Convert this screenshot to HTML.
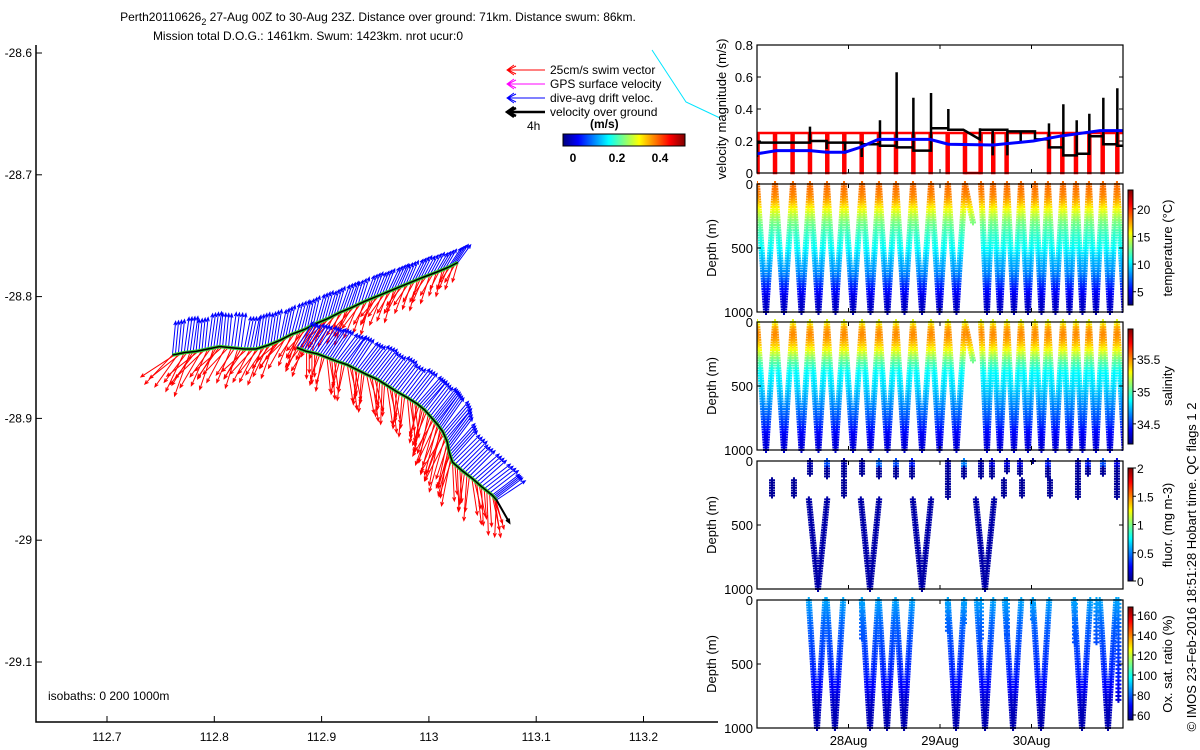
<!DOCTYPE html>
<html><head><meta charset="utf-8"><style>
html,body{margin:0;padding:0;background:#fff;}
svg{display:block;font-family:"Liberation Sans",sans-serif;}
</style></head><body>
<svg id="fig" width="1200" height="750" viewBox="0 0 1200 750" xmlns="http://www.w3.org/2000/svg">
<defs>
<clipPath id="mapclip"><rect x="36" y="45" width="682" height="677"/></clipPath>
<clipPath id="pclip"><rect x="757" y="40" width="366" height="700"/></clipPath>
</defs>
<g font-size="12" text-anchor="middle" fill="#000">
<text x="378" y="21">Perth20110626<tspan font-size="9" dy="4">2</tspan><tspan dy="-4"> 27-Aug 00Z to 30-Aug 23Z. Distance over ground: 71km. Distance swum: 86km.</tspan></text>
<text x="308" y="40">Mission total D.O.G.: 1461km. Swum: 1423km. nrot ucur:0</text>
</g>
<g id="map"></g>
<g id="legend"></g>
<g id="panels"></g>
<text transform="translate(1196,567) rotate(-90)" text-anchor="middle" font-size="13">© IMOS 23-Feb-2016 18:51:28 Hobart time. QC flags 1  2</text>
</svg>
<script>
// ---------- DATA ----------
const t1Lon=[112.761,112.772,112.783,112.794,112.805,112.816,112.828,112.839,112.850,112.861,112.872,112.884,112.895,112.906,112.917,112.928,112.940,112.951,112.962,112.973,112.984,112.995,113.007,113.018,113.027];
const t1Lat=[-28.848,-28.846,-28.845,-28.843,-28.841,-28.842,-28.843,-28.843,-28.840,-28.836,-28.831,-28.827,-28.822,-28.818,-28.813,-28.809,-28.804,-28.800,-28.796,-28.792,-28.788,-28.784,-28.780,-28.776,-28.772];
const t1DriftU=[0.02,0.03,0.02,0.03,0.02,0.03,0.04,0.03,0.03,0.04,0.05,0.04,0.05,0.05,0.06,0.05,0.06,0.06,0.07,0.06,0.07,0.07,0.07,0.08,0.08];
const t1DriftV=[0.21,0.22,0.20,0.22,0.21,0.22,0.20,0.21,0.20,0.19,0.19,0.18,0.18,0.17,0.17,0.16,0.16,0.15,0.15,0.14,0.14,0.13,0.12,0.12,0.11];
const t1SwimU=[-0.15,-0.10,-0.14,-0.09,-0.12,-0.08,-0.11,-0.09,-0.08,-0.11,-0.07,-0.09,-0.08,-0.10,-0.07,-0.09,-0.06,-0.08,-0.06,-0.07,-0.05,-0.06,-0.04,-0.05,-0.03];
const t1SwimV=[-0.15,-0.20,-0.17,-0.19,-0.16,-0.18,-0.15,-0.17,-0.16,-0.14,-0.16,-0.15,-0.17,-0.14,-0.16,-0.15,-0.16,-0.14,-0.15,-0.13,-0.14,-0.13,-0.12,-0.11,-0.10];
const t2Lon=[112.877,112.886,112.896,112.905,112.914,112.924,112.933,112.942,112.952,112.961,112.970,112.980,112.989,112.996,113.003,113.008,113.013,113.017,113.019,113.022,113.031,113.040,113.049,113.059,113.063];
const t2Lat=[-28.842,-28.845,-28.847,-28.850,-28.853,-28.856,-28.860,-28.864,-28.868,-28.873,-28.878,-28.883,-28.888,-28.893,-28.900,-28.905,-28.911,-28.919,-28.928,-28.936,-28.943,-28.949,-28.956,-28.963,-28.967];
const t2DriftU=[0.10,0.11,0.12,0.12,0.13,0.12,0.13,0.14,0.13,0.14,0.13,0.14,0.15,0.14,0.15,0.14,0.16,0.15,0.16,0.17,0.16,0.17,0.18,0.17,0.18];
const t2DriftV=[0.16,0.17,0.17,0.18,0.17,0.18,0.17,0.18,0.17,0.18,0.17,0.18,0.17,0.18,0.19,0.20,0.19,0.20,0.18,0.17,0.16,0.15,0.14,0.13,0.12];
const t2SwimU=[-0.06,0.00,-0.04,0.02,-0.03,0.03,-0.02,0.04,-0.01,0.03,-0.02,0.02,-0.04,-0.06,-0.09,-0.07,-0.10,-0.05,-0.06,0.01,-0.02,0.03,0.01,0.04,-0.01];
const t2SwimV=[-0.12,-0.14,-0.16,-0.18,-0.17,-0.19,-0.18,-0.20,-0.19,-0.20,-0.19,-0.21,-0.20,-0.22,-0.24,-0.26,-0.25,-0.23,-0.22,-0.20,-0.21,-0.19,-0.20,-0.18,-0.19];
const redDrops=[0.006,0.197,0.389,0.579,0.768,0.954,1.144,1.333,1.519,1.709,1.898,2.084,2.273,2.444,2.582,2.728,3.191,3.337,3.486,3.632,3.778,3.938];
const redLevel=0.25, redZeroStart=2.28, redZeroEnd=2.44;
const blackStart=[0,0.579,0.761,0.962,1.144,1.344,1.526,1.709,1.902,2.091,2.255,2.437,2.576,2.736,2.882,3.038,3.191,3.348,3.494,3.632,3.785,3.938];
const blackLevel=[0.19,0.20,0.19,0.19,0.18,0.17,0.16,0.14,0.28,0.27,0.27,0.27,0.27,0.26,0.26,0.21,0.16,0.11,0.12,0.23,0.18,0.17];
const blackEnd=[0.19,0.20,0.19,0.19,0.18,0.17,0.16,0.14,0.28,0.27,0.21,0.27,0.27,0.26,0.26,0.21,0.16,0.11,0.12,0.23,0.18,0.17];
const blackSpike=[0.10,0.29,0.15,0.12,0.10,0.33,0.63,0.47,0.50,0.40,0.27,0.28,0.11,0.11,0.19,0.21,0.31,0.43,0.33,0.37,0.47,0.53];
const blueT=[0,0.212,0.579,0.761,0.962,1.126,1.326,1.709,1.891,2.091,2.582,3.020,3.311,3.749,4.0];
const blueV=[0.12,0.14,0.14,0.13,0.13,0.16,0.21,0.21,0.21,0.18,0.175,0.20,0.23,0.265,0.265];
const diveStart=[0.0,0.197,0.393,0.579,0.765,0.951,1.148,1.333,1.519,1.705,1.902,2.087,2.273,2.448,2.579,2.732,2.885,3.038,3.180,3.344,3.486,3.628,3.781,3.934];
const diveEnd=[0.197,0.393,0.579,0.765,0.951,1.148,1.333,1.519,1.705,1.902,2.087,2.273,2.448,2.579,2.732,2.885,3.038,3.180,3.344,3.486,3.628,3.781,3.934,4.10];
const diveMax=[1000,1000,1000,1000,1000,1000,1000,1000,1000,1000,1000,1000,300,1000,1000,1000,1000,1000,1000,1000,1000,1000,1000,1000];
const profDepth=[0,50,100,150,200,250,300,400,500,600,700,800,900,1000];
const tempProf=[18.6,18.4,18.0,17.0,15.5,14.2,13.0,11.5,10.5,9.0,8.0,6.0,4.5,3.8];
const salProf=[35.25,35.45,35.5,35.45,35.35,35.2,35.05,34.85,34.8,34.7,34.6,34.5,34.38,34.33];
const oxProf=[88,86,84,82,80,79,78,76,74,72,68,63,61,60];
const fluorV=[0.667,1.235,1.803,2.492];
const fluorCols=[[0.164,150,280,0.05],[0.404,150,280,0.05],[0.579,0,100,0.1],[0.765,0,120,0.4],[0.951,0,120,0.1],[0.951,150,280,0.05],[1.148,0,100,0.1],[1.333,0,120,0.45],[1.519,0,120,0.4],[1.694,0,120,0.3],[2.087,0,280,0.1],[2.262,0,120,0.5],[2.448,0,130,0.1],[2.568,0,120,0.2],[2.732,0,80,0.2],[2.699,150,280,0.05],[2.874,0,100,0.2],[2.896,150,280,0.05],[3.016,0,10,0.05],[3.180,0,120,0.3],[3.202,150,280,0.05],[3.508,0,280,0.1],[3.617,0,100,0.3],[3.781,0,100,0.4],[3.934,0,280,0.2]];
const oxV=[0.656,0.852,1.235,1.421,1.607,2.175,2.492,2.798,3.104,3.552,3.836];
const oxCols=[[1.148,0,300],[2.087,0,250],[2.262,0,200],[2.448,0,300],[2.732,0,300],[3.016,0,150],[3.475,0,350],[3.71,0,350],[3.95,0,800]];
const mapXTicks=[112.7,112.8,112.9,113,113.1,113.2];
const mapYTicks=[-28.6,-28.7,-28.8,-28.9,-29,-29.1];
const dateTicks=[1,2,3], dateLabels=["28Aug","29Aug","30Aug"];

// ---------- HELPERS ----------
const NS="http://www.w3.org/2000/svg";
function mk(tag,attrs,parent){const e=document.createElementNS(NS,tag);for(const k in attrs)e.setAttribute(k,attrs[k]);parent.appendChild(e);return e;}
function jet(t){t=Math.max(0,Math.min(1,t));const c=v=>Math.round(255*Math.max(0,Math.min(1,v)));return `rgb(${c(1.5-Math.abs(4*t-3))},${c(1.5-Math.abs(4*t-2))},${c(1.5-Math.abs(4*t-1))})`;}
function interp(xs,ys,x){if(x<=xs[0])return ys[0];for(let i=1;i<xs.length;i++){if(x<=xs[i]){const f=(x-xs[i-1])/(xs[i]-xs[i-1]);return ys[i-1]+f*(ys[i]-ys[i-1]);}}return ys[ys.length-1];}

// ---------- MAP ----------
const map=document.getElementById('map');
const MX0=36,MX1=718,MY0=45,MY1=722;
const mx=lon=>107+(lon-112.7)*1073;
const my=lat=>53+(-28.6-lat)*1218;
const VS=160;
const mapG=mk('g',{'clip-path':'url(#mapclip)'},map);
function arrow(parent,x,y,u,v,color,name,w){
  const x2=x+u*VS,y2=y-v*VS;const ang=Math.atan2(y2-y,x2-x);const h=4;
  const p=`M${x},${y}L${x2},${y2}M${x2-h*Math.cos(ang-0.4)},${y2-h*Math.sin(ang-0.4)}L${x2},${y2}L${x2-h*Math.cos(ang+0.4)},${y2-h*Math.sin(ang+0.4)}`;
  const e=mk('path',{d:p,stroke:color,'stroke-width':w||1,fill:'none'},parent);
  
  
}
const subs=[0,0.25,0.5,0.75];
function drawTrack(lon,lat,du,dv,su,sv,id){
  for(let i=0;i<lon.length;i++){
    subs.forEach((f,k)=>{if(i==lon.length-1&&f>0)return;const j=Math.min(i+1,lon.length-1);
      const x=mx(lon[i])+(mx(lon[j])-mx(lon[i]))*f,y=my(lat[i])+(my(lat[j])-my(lat[i]))*f;
      const jit=[1,1.25,0.85,1.15][k];
      arrow(mapG,x,y,su[i]*jit*1.15,sv[i]*(2.1-jit)*1.1,'#ff0000','swim-vector',1);});}
  for(let i=0;i<lon.length;i++){
    subs.forEach(f=>{if(i==lon.length-1&&f>0)return;const j=Math.min(i+1,lon.length-1);
      const x=mx(lon[i])+(mx(lon[j])-mx(lon[i]))*f,y=my(lat[i])+(my(lat[j])-my(lat[i]))*f;
      arrow(mapG,x,y,du[i],dv[i],'#0000ff','drift-vector',1);});}
  let d='';for(let i=0;i<lon.length;i++)d+=(i?'L':'M')+mx(lon[i])+','+my(lat[i]);
  const g=mk('path',{d:d,stroke:'#33cc33','stroke-width':3.5,fill:'none'},mapG);
  
  
  const l=mk('path',{d:d,stroke:'#000','stroke-width':1.5,fill:'none'},mapG);
  
  
}
drawTrack(t1Lon,t1Lat,t1DriftU,t1DriftV,t1SwimU,t1SwimV,'track-1');
drawTrack(t2Lon,t2Lat,t2DriftU,t2DriftV,t2SwimU,t2SwimV,'track-2');
arrow(mapG,mx(t2Lon[t2Lon.length-1]),my(t2Lat[t2Lat.length-1]),0.08,-0.14,'#000','final-velocity-arrow',2);
const ax=mk('path',{d:`M${MX0},${MY0}V${MY1}H${MX1}`,stroke:'#000','stroke-width':1.5,fill:'none'},map);


mapXTicks.forEach(v=>{const x=mx(v);mk('line',{x1:x,x2:x,y1:MY1,y2:MY1-6,stroke:'#000'},map);
  const t=mk('text',{x:x,y:MY1+19,'text-anchor':'middle','font-size':12},map);t.textContent=String(v);
  
  });
mapYTicks.forEach(v=>{const y=my(v);mk('line',{x1:MX0,x2:MX0+6,y1:y,y2:y,stroke:'#000'},map);
  const t=mk('text',{x:MX0-4,y:y+4,'text-anchor':'end','font-size':12},map);t.textContent=String(v);
  
  });
const iso=mk('text',{x:48,y:700,'font-size':12},map);iso.textContent='isobaths: 0   200  1000m';


iso.setAttribute('xml:space','preserve');
const cy=mk('path',{d:'M652,50L686,102L720,118',stroke:'#00e5ff','stroke-width':1,fill:'none'},map);



// ---------- LEGEND ----------
const lg=document.getElementById('legend');
const legItems=[['#ff0000','25cm/s swim vector',1],['#ff00ff','GPS surface velocity',1],['#0000ff','dive-avg drift veloc.',1],['#000','velocity over ground',2.5]];
legItems.forEach((it,i)=>{const y=70+i*14;
  const a=mk('path',{d:`M545,${y}H507M514,${y-5}L507,${y}L514,${y+5}M516,${y-4}L508,${y}L516,${y+4}`,stroke:it[0],'stroke-width':it[2],fill:'none'},lg);
  
  
  const t=mk('text',{x:550,y:y+4,'font-size':12},lg);t.textContent=it[1];
  
  });
const h4=mk('text',{x:527,y:130,'font-size':12},lg);h4.textContent='4h';


const ms=mk('text',{x:590,y:128,'font-size':12,'font-weight':'bold'},lg);ms.textContent='(m/s)';


function gradient(id,vert){const defs=document.querySelector('defs');const g=mk('linearGradient',vert?{id:id,x1:0,y1:1,x2:0,y2:0}:{id:id,x1:0,y1:0,x2:1,y2:0},defs);for(let i=0;i<=16;i++)mk('stop',{offset:i/16,'stop-color':jet(i/16)},g);}
gradient('gh',false);gradient('gv',true);
const lcb=mk('rect',{x:563,y:134,width:122,height:12,fill:'url(#gh)',stroke:'#000','stroke-width':1},lg);


[[0,573],[0.2,617],[0.4,660]].forEach(v=>{const t=mk('text',{x:v[1],y:162,'font-size':12,'font-weight':'bold','text-anchor':'middle'},lg);t.textContent=String(v[0]);
  
  });

// ---------- PANELS ----------
const P=document.getElementById('panels');
const PX0=757,PX1=1123;
const px=t=>PX0+t*(PX1-PX0)/4;
const panelTops=[45,184,322,461,600],PH=128;
function panelFrame(i,name,yticks,ymin,ymax,ylabel){
  const top=panelTops[i],bot=top+PH;
  const g=mk('g',{},P);
  const yv=v=>top+(v-ymin)/(ymax-ymin)*PH;
  return {g,top,bot,yv,draw(){
    const r=mk('rect',{x:PX0,y:top,width:PX1-PX0,height:PH,fill:'none',stroke:'#000','stroke-width':1.2},g);
    
    yticks.forEach(v=>{const y=yv(v);mk('line',{x1:PX0,x2:PX0+4,y1:y,y2:y,stroke:'#000'},g);mk('line',{x1:PX1,x2:PX1-4,y1:y,y2:y,stroke:'#000'},g);
      const t=mk('text',{x:PX0-4,y:y+5,'text-anchor':'end','font-size':13},g);t.textContent=String(v);
      });
    dateTicks.forEach(d=>{const x=px(d);mk('line',{x1:x,x2:x,y1:bot,y2:bot-4,stroke:'#000'},g);mk('line',{x1:x,x2:x,y1:top,y2:top+4,stroke:'#000'},g);});
    const yl=mk('text',{transform:`translate(${i==0?726:716},${top+PH/2}) rotate(-90)`,'text-anchor':'middle','font-size':13},g);yl.textContent=ylabel;
    
  }};
}
const p1=panelFrame(0,'velocity-panel',[0,0.2,0.4,0.6,0.8],0.8,0,'velocity magnitude (m/s)');
{const g=mk('g',{'clip-path':'url(#pclip)'},p1.g);
 let d=`M${px(0)},${p1.yv(redLevel)}`;
 redDrops.forEach(t=>{const x=px(t);d+=`H${x-1}V${p1.yv(0)}H${x+1}V${p1.yv(redLevel)}`;});
 d+=`H${px(4)}`;
 const rl=mk('path',{d:d,stroke:'#ff0000','stroke-width':2.5,fill:'none'},g);
 const rz=mk('path',{d:`M${px(redZeroStart)},${p1.yv(redLevel)}V${p1.yv(0)}H${px(redZeroEnd)}V${p1.yv(redLevel)}`,stroke:'#ff0000','stroke-width':2.5,fill:'none'},g);
 
 let bd='';
 for(let i=0;i<blackStart.length;i++){const x=px(blackStart[i]),xe=px(i+1<blackStart.length?blackStart[i+1]:4);
   bd+=(i?'L':'M')+x+','+p1.yv(blackLevel[i])+`V${p1.yv(blackSpike[i])}V${p1.yv(blackLevel[i])}L${xe},${p1.yv(blackEnd[i])}`;}
 const bl=mk('path',{d:bd,stroke:'#000','stroke-width':2.5,fill:'none'},g);
 let ud='';blueT.forEach((t,i)=>{ud+=(i?'L':'M')+px(t)+','+p1.yv(blueV[i]);});
 const ul=mk('path',{d:ud,stroke:'#0000ff','stroke-width':3,fill:'none'},g);
 p1.draw();}
function marker(g,x,y,c,name){const e=mk('path',{d:`M${x-3},${y}h6M${x},${y-3}v6`,stroke:c,'stroke-width':2},g);
  }
function colorbar(i,name,vmin,vmax,ticks,label,cbTop,cbBot){
  const top=panelTops[i];const g=mk('g',{},P);
  const r=mk('rect',{x:1128,y:cbTop,width:5,height:cbBot-cbTop,fill:'url(#gv)',stroke:'#000','stroke-width':1},g);
  
  ticks.forEach(v=>{const y=cbBot-(v-vmin)/(vmax-vmin)*(cbBot-cbTop);mk('line',{x1:1133,x2:1136,y1:y,y2:y,stroke:'#000'},g);
    const t=mk('text',{x:1137,y:y+5,'font-size':12},g);t.textContent=String(v);
    });
  const t=mk('text',{transform:`translate(1172,${top+PH/2}) rotate(-90)`,'text-anchor':'middle','font-size':13},g);t.textContent=label;
  
}
function divePanel(i,name,prof,vmin,vmax){
  const p=panelFrame(i,name,[0,500,1000],0,1000,'Depth (m)');
  const g=mk('g',{'clip-path':'url(#pclip)'},p.g);
  for(let k=0;k<diveStart.length;k++){const a=px(diveStart[k]),b=px(diveEnd[k]),m=(a+b)/2,mxD=diveMax[k];
    for(let d=0;d<=mxD;d+=20){const c=jet((interp(profDepth,prof,d)-vmin)/(vmax-vmin));const f=d/mxD;
      marker(g,a+(m-a)*f,p.yv(d),c,'dive-sample');
      if(mxD>=1000)marker(g,b-(b-m)*f,p.yv(d),c,'dive-sample');}}
  p.draw();return p;}
divePanel(1,'temperature-panel',tempProf,2.6,23.4);
colorbar(1,'temperature-colorbar',2.6,23.4,[5,10,15,20],'temperature (°C)',190,305);
divePanel(2,'salinity-panel',salProf,34.19,35.96);
colorbar(2,'salinity-colorbar',34.19,35.96,[34.5,35,35.5],'salinity',329,444);
{const p=panelFrame(3,'fluorescence-panel',[0,500,1000],0,1000,'Depth (m)');const g=mk('g',{'clip-path':'url(#pclip)'},p.g);
 fluorV.forEach(t=>{const b=px(t);for(let d=300;d<=1000;d+=20){const f=(1000-d)/700;const c=jet(0.04);
   marker(g,b-f*0.1*91.5,p.yv(d),c,'fluor-sample');marker(g,b+f*0.1*91.5,p.yv(d),c,'fluor-sample');}});
 fluorCols.forEach(c=>{const x=px(c[0]);for(let d=c[1];d<=c[2];d+=20){const v=d<60?c[3]:0.05;marker(g,x,p.yv(d),jet(v/2),'fluor-sample');}});
 p.draw();}
colorbar(3,'fluorescence-colorbar',0,2,[0,0.5,1,1.5,2],'fluor. (mg m-3)',468,581);
{const p=panelFrame(4,'oxygen-panel',[0,500,1000],0,1000,'Depth (m)');const g=mk('g',{'clip-path':'url(#pclip)'},p.g);
 oxV.forEach(t=>{const b=px(t);for(let d=0;d<=1000;d+=20){const f=(1000-d)/1000;const c=jet((interp(profDepth,oxProf,d)-55)/113);
   marker(g,b-f*0.09*91.5,p.yv(d),c,'oxygen-sample');marker(g,b+f*0.09*91.5,p.yv(d),c,'oxygen-sample');}});
 oxCols.forEach(c=>{const x=px(c[0]);for(let d=c[1];d<=c[2];d+=30){marker(g,x,p.yv(d),jet((interp(profDepth,oxProf,d)-55)/113),'oxygen-sample');}});
 p.draw();
 dateTicks.forEach((d,k)=>{const t=mk('text',{x:px(d),y:p.bot+17,'text-anchor':'middle','font-size':13},p.g);t.textContent=dateLabels[k];
   });}
colorbar(4,'oxygen-colorbar',55,168,[60,80,100,120,140,160],'Ox. sat. ratio (%)',607,720);
</script>
</body></html>
